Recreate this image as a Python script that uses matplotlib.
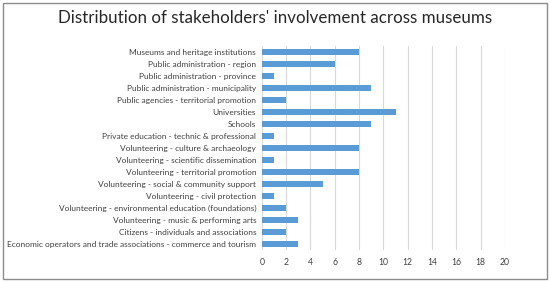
import matplotlib
matplotlib.use("Agg")
from matplotlib import pyplot as plt
from matplotlib.patches import Rectangle

categories = [
    "Museums and heritage institutions",
    "Public administration - region",
    "Public administration - province",
    "Public administration - municipality",
    "Public agencies - territorial promotion",
    "Universities",
    "Schools",
    "Private education - technic & professional",
    "Volunteering - culture & archaeology",
    "Volunteering - scientific dissemination",
    "Volunteering - territorial promotion",
    "Volunteering - social & community support",
    "Volunteering - civil protection",
    "Volunteering - environmental education (foundations)",
    "Volunteering - music & performing arts",
    "Citizens - individuals and associations",
    "Economic operators and trade associations - commerce and tourism",
]
values = [8, 6, 1, 9, 2, 11, 9, 1, 8, 1, 8, 5, 1, 2, 3, 2, 3]
x_ticks = list(range(0, 21, 2))

plt.rcParams['font.family'] = ['Lato', 'DejaVu Sans']

fig = plt.figure(figsize=(5.5, 2.82), dpi=100)
ax = fig.add_axes([0.476, 0.113, 0.442, 0.724])

y = list(range(len(categories)))
ax.barh(y, values, height=0.45, color="#5B9BD5", zorder=3)
ax.set_ylim(len(categories) - 0.5, -0.5)
ax.set_xlim(0, 20)
ax.set_xticks(x_ticks)
ax.set_yticks(y)
ax.set_yticklabels(categories, fontsize=6.0, color="#404040")
ax.tick_params(axis="x", labelsize=6.2, labelcolor="#404040", length=0, pad=6)
ax.tick_params(axis="y", length=0, pad=4)
ax.grid(True, axis="x", color="#D9D9D9", linewidth=0.8, zorder=0)
for s in ax.spines.values():
    s.set_visible(False)

fig.text(0.5, 0.935, "Distribution of stakeholders' involvement across museums",
         ha="center", va="center", fontsize=12.2, color="#262626")
fig.patches.append(Rectangle((0.006, 0.012), 0.988, 0.976, transform=fig.transFigure,
                             fill=False, edgecolor="#8C8C8C", linewidth=1))

fig.savefig("out.png", dpi=100)
